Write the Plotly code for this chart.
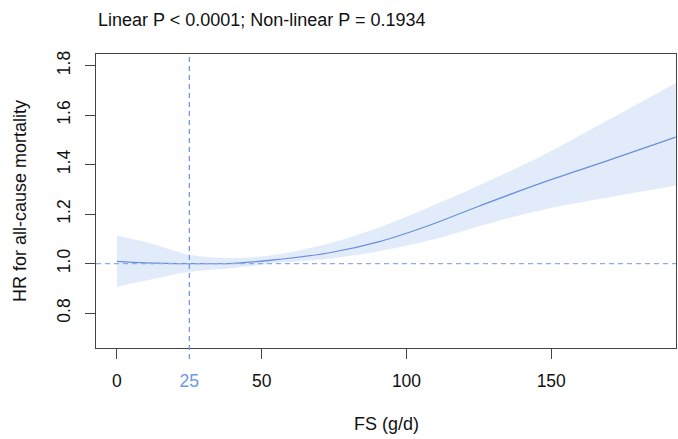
import plotly.graph_objects as go

# ---- data ----
fs = [0, 10, 25, 40, 56, 73, 91, 108, 125, 146, 170, 193]
hr = [1.009, 1.003, 1.000, 1.001, 1.017, 1.043, 1.090, 1.155, 1.232, 1.323, 1.418, 1.511]
hr_upper = [1.114, 1.087, 1.036, 1.023, 1.038, 1.081, 1.148, 1.229, 1.316, 1.431, 1.582, 1.730]
hr_lower = [0.908, 0.932, 0.966, 0.982, 1.003, 1.020, 1.051, 1.094, 1.150, 1.215, 1.268, 1.316]
ref_x = 25
ref_y = 1.0
x_ticks = [0, 50, 100, 150]
y_ticks = [0.8, 1.0, 1.2, 1.4, 1.6, 1.8]
title_text = "Linear P < 0.0001; Non-linear P = 0.1934"
x_title = "FS (g/d)"
y_title = "HR for all-cause mortality"

FONT = "Liberation Sans, Arial, sans-serif"
LINE_C = "#6b8fdc"
BAND_C = "rgba(205,221,246,0.6)"
REF_C = "#6f98e6"
HREF_C = "#8eabe6"
AX_C = "#444444"

x_range = [-7.24, 193.1]
y_range = [0.659, 1.847]

fig = go.Figure()
fig.add_trace(go.Scatter(x=fs, y=hr_lower, mode="lines", line=dict(width=0, shape="spline", smoothing=1.0),
                         hoverinfo="skip", showlegend=False))
fig.add_trace(go.Scatter(x=fs, y=hr_upper, mode="lines", line=dict(width=0, shape="spline", smoothing=1.0),
                         fill="tonexty", fillcolor=BAND_C, hoverinfo="skip", showlegend=False))
fig.add_trace(go.Scatter(x=fs, y=hr, mode="lines",
                         line=dict(color=LINE_C, width=1.2, shape="spline", smoothing=1.0),
                         showlegend=False))
# invisible trace to activate xaxis2
fig.add_trace(go.Scatter(x=[ref_x], y=[ref_y], xaxis="x2", mode="markers",
                         marker=dict(opacity=0), hoverinfo="skip", showlegend=False))

fig.add_shape(type="line", xref="paper", yref="y", x0=0, x1=1, y0=ref_y, y1=ref_y,
              line=dict(color=HREF_C, width=1.4, dash="5px,4px"), layer="above")
fig.add_shape(type="line", xref="x", yref="paper", x0=ref_x, x1=ref_x, y0=-0.037, y1=1,
              line=dict(color=REF_C, width=1.3, dash="5px,4px"), layer="above")

tickfont = dict(family=FONT, size=17.5, color="#111111")
fig.update_layout(
    width=678, height=439,
    margin=dict(l=96, r=2, t=54, b=91),
    paper_bgcolor="white", plot_bgcolor="white",
    font=dict(family=FONT, color="#111111"),
    xaxis=dict(range=x_range, tickvals=x_ticks, ticks="outside", ticklen=10, tickwidth=1,
               tickcolor=AX_C, showline=True, linecolor=AX_C, linewidth=1, mirror=True,
               showgrid=False, zeroline=False, tickfont=tickfont, ticklabelstandoff=7),
    xaxis2=dict(range=x_range, overlaying="x", side="bottom", tickvals=[ref_x],
                ticktext=[str(ref_x)], ticks="outside", ticklen=10, tickcolor="rgba(0,0,0,0)",
                showline=False, showgrid=False, zeroline=False,
                tickfont=dict(family=FONT, size=17.5, color=REF_C), ticklabelstandoff=7),
    yaxis=dict(range=y_range, tickvals=y_ticks, ticktext=[f"{v:.1f}" for v in y_ticks],
               ticks="outside", ticklen=10, tickwidth=1, tickcolor=AX_C,
               showline=True, linecolor=AX_C, linewidth=1, mirror=True,
               showgrid=False, zeroline=False, tickfont=tickfont, tickangle=-90,
               ticklabelstandoff=8),
    annotations=[
        dict(text=title_text, xref="paper", yref="paper", x=0, y=(348 - 19.5) / 294,
             xanchor="left", yanchor="middle", showarrow=False,
             font=dict(family=FONT, size=18, color="#111111")),
        dict(text=x_title, xref="paper", yref="paper", x=0.5, y=(348 - 424) / 294,
             xanchor="center", yanchor="middle", showarrow=False,
             font=dict(family=FONT, size=18, color="#111111")),
        dict(text=y_title, xref="paper", yref="paper", x=(20 - 96) / 580, y=0.5,
             xanchor="center", yanchor="middle", textangle=-90, showarrow=False,
             font=dict(family=FONT, size=18, color="#111111")),
    ],
)

fig.write_html("out.html", config={"displayModeBar": False},
               post_script="document.body.style.margin='0';document.body.style.overflow='hidden';")
